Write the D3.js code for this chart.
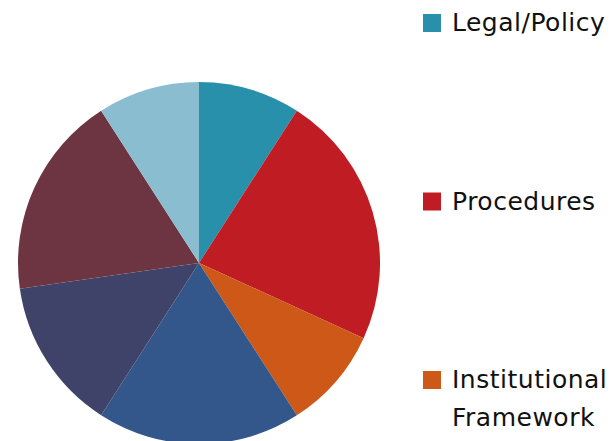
<!DOCTYPE html>
<html>
<head>
<meta charset="utf-8">
<script src="https://cdn.jsdelivr.net/npm/d3@7"></script>
<style>
  body { margin: 0; background: #fff; }
  svg { display: block; }
</style>
</head>
<body>
<div id="vis"></div>
<script>
// slices clockwise from 12 o'clock
var categories = ['Legal/Policy', 'Procedures', 'Institutional Framework', 'Category 4', 'Category 5', 'Category 6', 'Category 7'];
var values = [10, 25, 10, 20, 15, 20, 10];
var colors = ['#2990ab', '#c01c24', '#cd5818', '#33578a', '#3f4369', '#6c3541', '#8abdd0'];
// only the first legend entries fit inside the picture
var legendShown = 3;

var width = 611, height = 441;

var svg = d3.select('#vis')
    .append('svg')
        .attr('width', width)
        .attr('height', height);

var data = categories.map(function(c, i){ return {name: c, value: values[i], color: colors[i]}; });

var pie = d3.pie()
    .sort(null)
    .value(function(d){ return d.value; });

var arc = d3.arc()
    .innerRadius(0)
    .outerRadius(181);

var g = svg.append('g')
    .attr('transform', 'translate(199,263)');

g.selectAll('.slice')
    .data(pie(data))
    .enter()
    .append('path')
        .attr('class', 'slice')
        .attr('d', arc)
        .attr('fill', function(d){ return d.data.color; });

// legend stacked down the right side
var legend = svg.append('g')
    .attr('transform', 'translate(423,14)');

var items = legend.selectAll('.item')
    .data(data.slice(0, legendShown))
    .enter()
    .append('g')
        .attr('class', 'item')
        .attr('transform', function(d, i){ return 'translate(0,' + (i * 178.5) + ')'; });

items.append('rect')
    .attr('width', 18)
    .attr('height', 18)
    .attr('fill', function(d){ return d.color; });

var labels = items.append('text')
    .attr('x', 29)
    .attr('y', 17)
    .attr('fill', '#111')
    .style('font-family', 'DejaVu Sans, sans-serif')
    .style('font-size', '25px')
    .style('letter-spacing', '0.5px');

labels.each(function(d){
    var words = d.name === 'Institutional Framework' ? ['Institutional', 'Framework'] : [d.name];
    var t = d3.select(this);
    words.forEach(function(w, j){
        t.append('tspan')
            .attr('x', 29)
            .attr('dy', j === 0 ? 0 : 38)
            .text(w);
    });
});
</script>
</body>
</html>
